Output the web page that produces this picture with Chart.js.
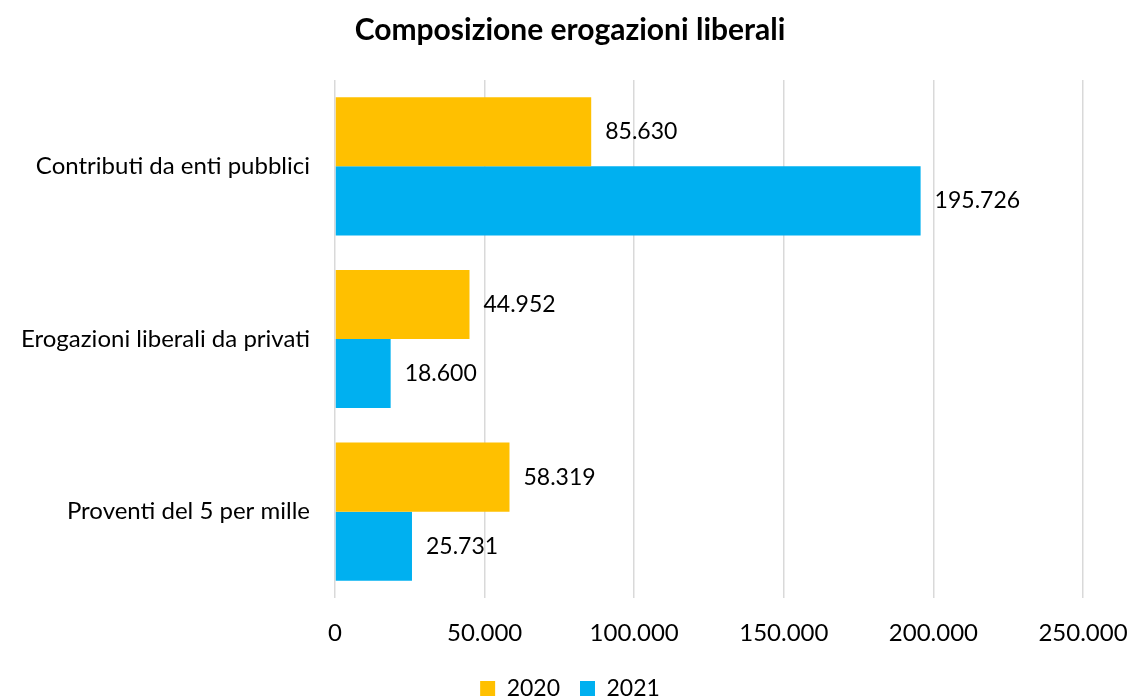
<!DOCTYPE html>
<html>
<head>
<meta charset="utf-8">
<script src="https://cdn.jsdelivr.net/npm/chart.js@4"></script>
<style>
  html, body { margin: 0; padding: 0; background: #fff; }
  #wrap { width: 1130px; height: 696px; }
</style>
</head>
<body>
<div id="wrap"><canvas id="chart" width="1130" height="696"></canvas></div>
<script>
// Dati del grafico
const categories = ['Contributi da enti pubblici', 'Erogazioni liberali da privati', 'Proventi del 5 per mille'];
const series2020 = [85630, 44952, 58319];
const series2021 = [195726, 18600, 25731];
const xTicks = [0, 50000, 100000, 150000, 200000, 250000];

// Formato italiano con punto come separatore delle migliaia
function fmt(v) {
    return String(Math.round(v)).replace(/\B(?=(\d{3})+(?!\d))/g, '.');
}

// Etichette dei valori a destra delle barre
const valueLabels = {
    id: 'valueLabels',
    afterDatasetsDraw(chart) {
        const ctx = chart.ctx;
        ctx.save();
        ctx.font = '23px Lato';
        ctx.fillStyle = '#000';
        ctx.textAlign = 'left';
        ctx.textBaseline = 'middle';
        chart.data.datasets.forEach((ds, i) => {
            chart.getDatasetMeta(i).data.forEach((bar, j) => {
                ctx.fillText(fmt(ds.data[j]), bar.x + 14, bar.y);
            });
        });
        ctx.restore();
    }
};

new Chart(document.getElementById('chart'), {
    type: 'bar',
    data: {
        labels: categories,
        datasets: [
            { label: '2020', data: series2020, backgroundColor: '#FFC000' },
            { label: '2021', data: series2021, backgroundColor: '#00B0F0' }
        ]
    },
    options: {
        indexAxis: 'y',
        responsive: false,
        animation: false,
        categoryPercentage: 0.8,
        barPercentage: 1,
        layout: { padding: { left: 10, right: 0, top: 0, bottom: -14 } },
        plugins: {
            title: {
                display: true,
                text: 'Composizione erogazioni liberali',
                color: '#000',
                font: { family: 'Lato', size: 30, weight: 'bold' },
                padding: { top: 12, bottom: 32 }
            },
            legend: {
                position: 'bottom',
                labels: {
                    color: '#000',
                    font: { family: 'Lato', size: 23 },
                    boxWidth: 15,
                    boxHeight: 15,
                    padding: 20
                }
            },
            tooltip: { enabled: false }
        },
        scales: {
            x: {
                min: 0,
                max: 250000,
                afterBuildTicks(scale) {
                    scale.ticks = xTicks.map(v => ({ value: v }));
                },
                afterFit(scale) {
                    scale.height = 59;
                    scale.paddingRight = 47;
                },
                grid: { color: '#d9d9d9', lineWidth: 1.5, drawTicks: false },
                border: { display: false },
                ticks: {
                    color: '#000',
                    font: { family: 'Lato', size: 24 },
                    padding: 21,
                    maxRotation: 0,
                    callback: v => fmt(v)
                }
            },
            y: {
                grid: { display: false },
                border: { display: false },
                afterFit(scale) { scale.width = 325; },
                ticks: {
                    color: '#000',
                    font: { family: 'Lato', size: 24 },
                    padding: 17
                }
            }
        }
    },
    plugins: [valueLabels]
});
</script>
</body>
</html>
